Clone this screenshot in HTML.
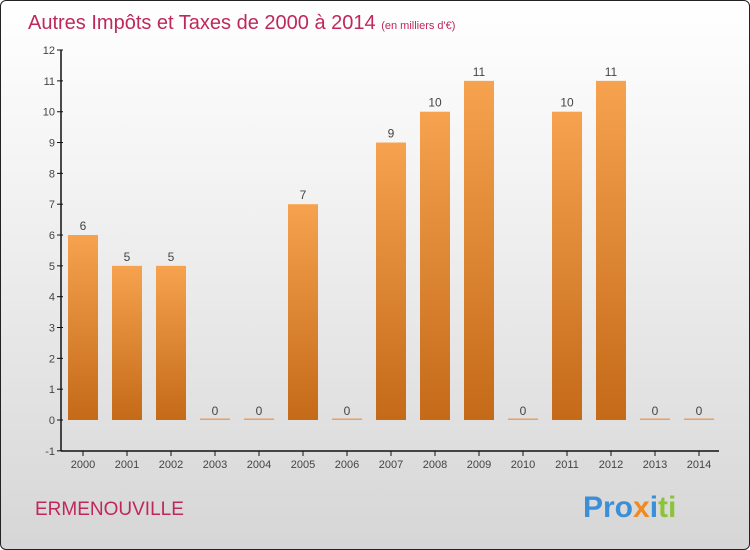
<!DOCTYPE html>
<html><head><meta charset="utf-8"><style>
body{margin:0;}
#c{position:relative;width:748px;height:548px;border:1px solid #222;border-radius:6px;overflow:hidden;background:linear-gradient(#ffffff,#f4f4f4 30%,#d6d6d6);font-family:"Liberation Sans",sans-serif;}
</style></head><body>
<div id="c">
<svg width="748" height="548" id="svg">
<defs><linearGradient id="bg" x1="0" y1="0" x2="0" y2="1"><stop offset="0" stop-color="#f6a24e"/><stop offset="1" stop-color="#c46a18"/></linearGradient></defs>
<text x="27" y="28" font-size="20" fill="#c0285a">Autres Impôts et Taxes de 2000 à 2014 <tspan font-size="11">(en milliers d'€)</tspan></text>
<text x="34" y="514" font-size="19" fill="#c0285a">ERMENOUVILLE</text>
<text x="582" y="516" font-size="30" font-weight="bold"><tspan fill="#3a8fd8">Pro</tspan><tspan fill="#f08a20">x</tspan><tspan fill="#3a8fd8">i</tspan><tspan fill="#8bc43a">ti</tspan></text>
<g id="plot"></g>
</svg>
</div>
<script>
const years=["2000","2001","2002","2003","2004","2005","2006","2007","2008","2009","2010","2011","2012","2013","2014"];
const values=[6,5,5,0,0,7,0,9,10,11,0,10,11,0,0];
const yTicks=[-1,0,1,2,3,4,5,6,7,8,9,10,11,12];
const NS="http://www.w3.org/2000/svg";
const g=document.getElementById('plot');
const y=v=>419-v*30.83;
const x=i=>82+i*44;
function mk(t,a){const e=document.createElementNS(NS,t);for(const k in a)e.setAttribute(k,a[k]);g.appendChild(e);return e;}
let ax=mk('line',{x1:60,y1:49,x2:60,y2:450,stroke:'#111','stroke-width':1.5});

let bx=mk('line',{x1:60,y1:450,x2:718,y2:450,stroke:'#111','stroke-width':1.5});

yTicks.forEach(v=>{
 mk('line',{x1:56,y1:y(v),x2:62,y2:y(v),stroke:'#111'});
 const t=mk('text',{x:54,y:y(v)+4,'text-anchor':'end','font-size':11,fill:'#444'});t.textContent=v;
 
});
years.forEach((yr,i)=>{
 mk('line',{x1:x(i),y1:450,x2:x(i),y2:455,stroke:'#111'});
 const t=mk('text',{x:x(i),y:467,'text-anchor':'middle','font-size':11,fill:'#444'});t.textContent=yr;
 
 const v=values[i];
 const h=Math.max(y(0)-y(v),1.5);
 const r=mk('rect',{x:x(i)-15,y:y(0)-h,width:30,height:h,fill:v>0?'url(#bg)':'#eaa060'});
 
 const l=mk('text',{x:x(i),y:y(v)-5,'text-anchor':'middle','font-size':12,fill:'#444'});l.textContent=v;
 
});
</script>
</body></html>
